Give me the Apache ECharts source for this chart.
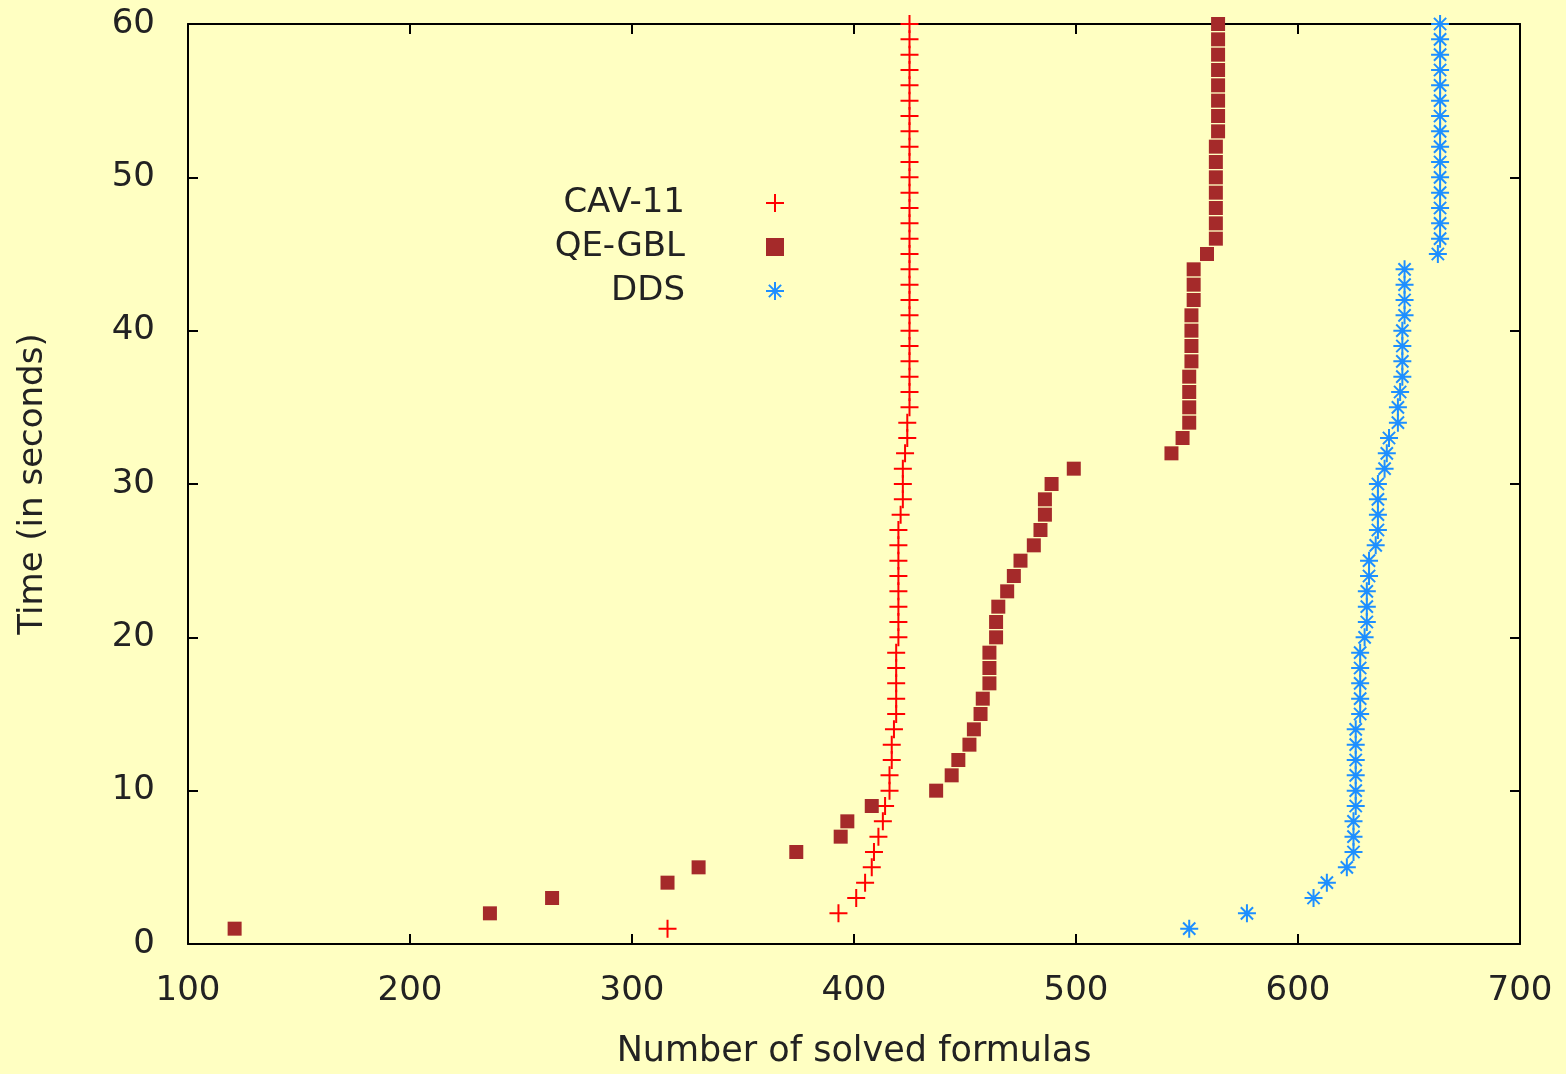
<!DOCTYPE html>
<html>
<head>
<meta charset="utf-8">
<script src="https://cdn.jsdelivr.net/npm/echarts@6/dist/echarts.min.js"></script>
<style>
  html, body { margin: 0; padding: 0; background: #ffffc2; overflow: hidden; }
  #chart { width: 1566px; height: 1074px; }
</style>
</head>
<body>
<div id="chart"></div>
<script>
// time limit in seconds (y values)
const times = [1, 2, 3, 4, 5, 6, 7, 8, 9, 10, 11, 12, 13, 14, 15, 16, 17, 18, 19, 20,
  21, 22, 23, 24, 25, 26, 27, 28, 29, 30, 31, 32, 33, 34, 35, 36, 37, 38, 39, 40,
  41, 42, 43, 44, 45, 46, 47, 48, 49, 50, 51, 52, 53, 54, 55, 56, 57, 58, 59, 60]

// number of solved formulas per time limit
const cav11 = [316, 393, 401, 405, 408, 409, 411, 413, 414, 416, 416, 417, 417, 418, 419, 419, 419, 419, 419, 420,
  420, 420, 420, 420, 420, 420, 420, 421, 422, 422, 422, 423, 424, 424, 425, 425, 425, 425, 425, 425,
  425, 425, 425, 425, 425, 425, 425, 425, 425, 425, 425, 425, 425, 425, 425, 425, 425, 425, 425, 425]
const qeGbl = [121, 236, 264, 316, 330, 374, 394, 397, 408, 437, 444, 447, 452, 454, 457, 458, 461, 461, 461, 464,
  464, 465, 469, 472, 475, 481, 484, 486, 486, 489, 499, 543, 548, 551, 551, 551, 551, 552, 552, 552,
  552, 553, 553, 553, 559, 563, 563, 563, 563, 563, 563, 563, 564, 564, 564, 564, 564, 564, 564, 564]
const dds = [551, 577, 607, 613, 622, 625, 625, 625, 626, 626, 626, 626, 626, 626, 628, 628, 628, 628, 628, 630,
  631, 631, 631, 632, 632, 635, 636, 636, 636, 636, 639, 640, 641, 645, 645, 646, 647, 647, 647, 647,
  648, 648, 648, 648, 663, 664, 664, 664, 664, 664, 664, 664, 664, 664, 664, 664, 664, 664, 664, 664]

const xTicks = { min: 100, max: 700, interval: 100 }
const yTicks = { min: 0, max: 60, interval: 10 }

const FONT = 'DejaVu Sans'
const TEXT = '#222'

const toPoints = (vals) => vals.map((v, i) => [v, times[i]])

const plusPath = 'path://M0,5 L10,5 M5,0 L5,10'
const starPath = 'path://M0,5 L10,5 M5,0 L5,10 M1.6,1.6 L8.4,8.4 M8.4,1.6 L1.6,8.4'

const chart = echarts.init(document.getElementById('chart'))

const axisCommon = {
  axisLine: { show: true, onZero: false, lineStyle: { color: '#000', width: 2 } },
  axisTick: { show: true, inside: true, length: 10, lineStyle: { color: '#000', width: 2 } },
  splitLine: { show: false }
}

chart.setOption({
  backgroundColor: '#ffffc2',
  animation: false,
  grid: { left: 188, right: 46, top: 24, bottom: 118 },
  legend: {
    orient: 'vertical',
    left: 490,
    top: 180,
    align: 'right',
    itemWidth: 18,
    itemHeight: 18,
    itemGap: 8,
    textStyle: {
      fontFamily: FONT, fontSize: 34, color: TEXT,
      width: 190, align: 'right', lineHeight: 36,
      padding: [0, 76, 0, 0]
    },
    data: [
      { name: 'CAV-11' },
      { name: 'QE-GBL', itemStyle: { color: '#a52a2a' }, icon: 'path://M1.5,1.5 H8.5 V8.5 H1.5 Z' },
      { name: 'DDS' }
    ]
  },
  xAxis: [
    {
      type: 'value', ...xTicks, ...axisCommon,
      name: 'Number of solved formulas',
      nameLocation: 'middle', nameGap: 90,
      nameTextStyle: { fontFamily: FONT, fontSize: 35, color: TEXT },
      axisLabel: { fontFamily: FONT, fontSize: 34, color: TEXT, margin: 30 }
    },
    {
      type: 'value', position: 'top', ...xTicks, ...axisCommon,
      axisLabel: { show: false }
    }
  ],
  yAxis: [
    {
      type: 'value', ...yTicks, ...axisCommon,
      name: 'Time (in seconds)',
      nameLocation: 'middle', nameGap: 138,
      nameTextStyle: { fontFamily: FONT, fontSize: 34, color: TEXT },
      axisLabel: { fontFamily: FONT, fontSize: 34, color: TEXT, margin: 33 }
    },
    {
      type: 'value', position: 'right', ...yTicks, ...axisCommon,
      axisLabel: { show: false }
    }
  ],
  series: [
    {
      name: 'CAV-11', type: 'scatter',
      symbol: plusPath, symbolSize: 18,
      itemStyle: { color: 'none', borderColor: '#ff0000', borderWidth: 2, opacity: 1 },
      data: toPoints(cav11)
    },
    {
      name: 'QE-GBL', type: 'scatter',
      symbol: 'rect', symbolSize: 14,
      itemStyle: { color: '#a52a2a', opacity: 1 },
      data: toPoints(qeGbl)
    },
    {
      name: 'DDS', type: 'scatter',
      symbol: starPath, symbolSize: 18,
      itemStyle: { color: 'none', borderColor: '#1e8fff', borderWidth: 2, opacity: 1 },
      data: toPoints(dds)
    }
  ]
})
</script>
</body>
</html>
